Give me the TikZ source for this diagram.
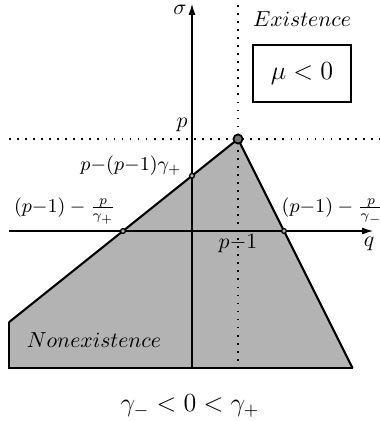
\documentclass[tikz,border=0pt]{standalone}
\usepackage{amsmath}
\usepackage{amssymb}
\usepackage{tikz}
\usetikzlibrary{arrows.meta,positioning,calc}
\definecolor{regiongray}{HTML}{B3B3B3}

\begin{document}
\begin{tikzpicture}[x=0.46pt,y=0.46pt,
  % nonexistence region: grey fill, thick slanted border
  boundline/.style={line width=0.95pt, draw=black, line join=round},
  edgeline/.style={line width=0.5pt, draw=black},
  axisline/.style={line width=0.5pt, -{Latex[length=5pt,width=3.2pt]}},
  % guides through the apex (p-1,p)
  guideline/.style={line width=0.8pt, dash pattern=on 0.8pt off 2.9pt},
  dotmark/.style={circle, draw=black, fill=regiongray, inner sep=0pt, minimum size=2.2pt, line width=0.6pt},
  apexmark/.style={circle, draw=black, fill=black!55, inner sep=0pt, minimum size=4.2pt, line width=0.8pt},
]
\useasboundingbox (-192,-190) rectangle (188,231);
\def\xL{-183}\def\xR{181}
\def\yB{-137}\def\yT{227}

% corners of the region
\coordinate (lt)   at (\xL,-91.2);
\coordinate (lb)   at (\xL,\yB);
\coordinate (rb)   at (160.5,\yB);
\coordinate (apex) at (46,92);
\coordinate (qlft) at (-69,0);
\coordinate (qrgt) at (92,0);
\coordinate (sgm)  at (0,55.2);

\fill[regiongray] (lt) -- (qlft) -- (apex) -- (qrgt) -- (rb) -- (lb) -- cycle;
\draw[edgeline] (lt) -- (lb) -- (rb);

% axes
\coordinate (xs) at (\xL,0);   \coordinate (xe) at (\xR,0);
\coordinate (ys) at (0,\yB);   \coordinate (ye) at (0,\yT);
\draw[axisline] (xs) -- (xe);
\draw[axisline] (ys) -- (ye);

% dotted guides
\coordinate (vt) at (46,226);  \coordinate (vb) at (46,\yB);
\coordinate (hl) at (\xL,92);  \coordinate (hr) at (188,92);
\draw[guideline] (vt) -- (vb);
\draw[guideline] (hl) -- (hr);

\draw[boundline] (lt) -- (apex) -- (rb);

\node[dotmark]  (m1) at (qlft) {};
\node[dotmark]  (m2) at (qrgt) {};
\node[dotmark]  (m3) at (sgm)  {};
\node[apexmark] (m4) at (apex) {};

% labels
\node (sig) at (-12,221) {$\sigma$};
\node (qq)  at (177,-13) {$q$};
\node (pp)  at (-10,106) {$p$};
\node (pm)  at (46,-13)  {$p{-}1$};
\node[font=\small, anchor=east] (icpt) at (-3,65) {$p{-}(p{-}1)\gamma_+$};
\node[font=\small] (qleft) at (-127,20) {$(p{-}1)-\frac{p}{\gamma_+}$};
\node[font=\small, anchor=west] (qright) at (82,20) {$(p{-}1)-\frac{p}{\gamma_-}$};

\node (ex) at (110,212) {$Existence$};
\node[draw, line width=1pt, minimum width=45pt, minimum height=26pt, font=\large] (mu) at (110,157.5) {$\mu<0$};
\node (nonex) at (-98,-109) {$Nonexistence$};
\node[font=\large] (cond) at (-2,-175) {$\gamma_-<0<\gamma_+$};
\end{tikzpicture}
\end{document}
